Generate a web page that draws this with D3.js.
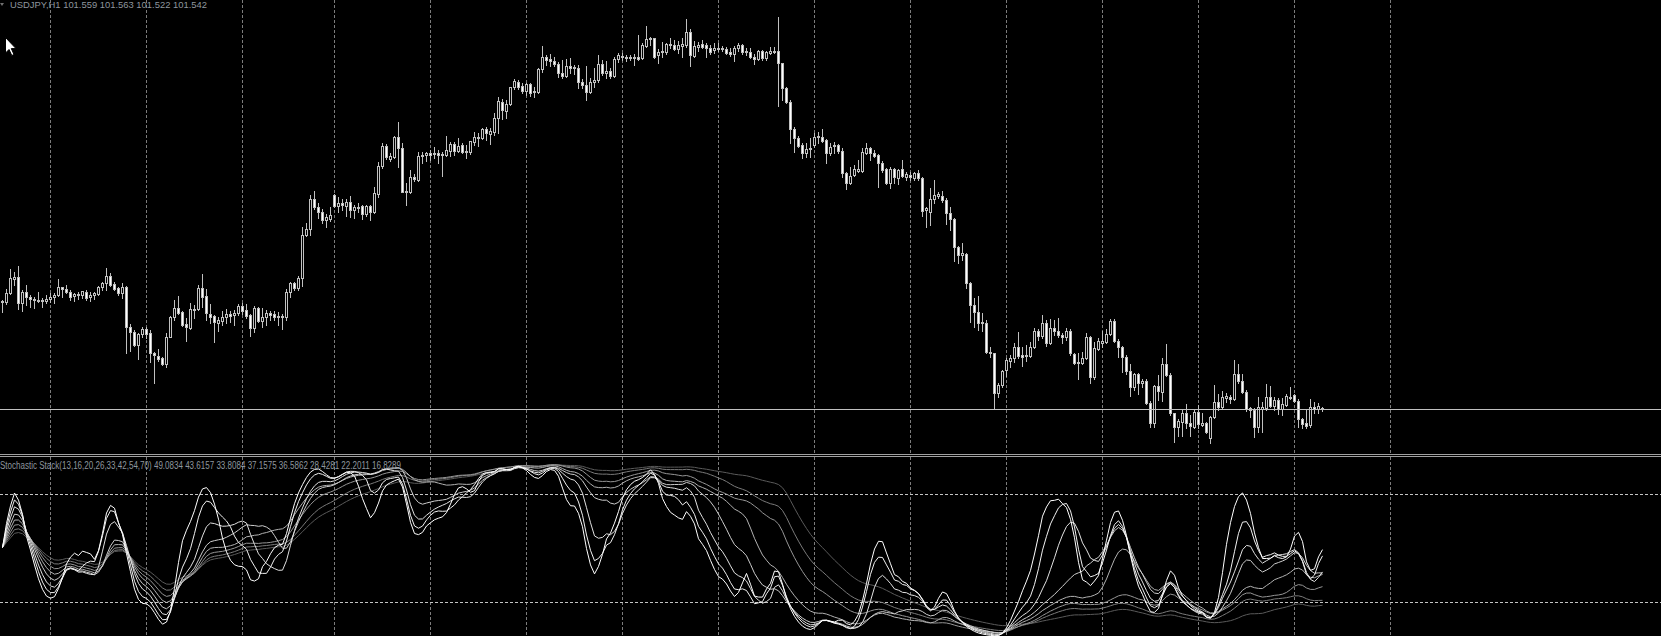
<!DOCTYPE html>
<html><head><meta charset="utf-8">
<script src="https://cdn.jsdelivr.net/npm/d3@7"></script>
<style>html,body{margin:0;padding:0;background:#000;overflow:hidden}</style>
</head><body><div id="chart"></div>
<script>
const symbol = "USDJPY,H1";
const periods = [13, 16, 20, 26, 33, 42, 54, 70];
const stochLabels = ["49.0834", "43.6157", "33.8084", "37.1575", "36.5862", "28.4281", "22.2011", "16.8289"];
const levels = [20, 80];
const dayStartBars = [12, 36, 60, 83, 107, 131, 155, 179, 203, 227, 251, 275, 299, 323, 347];

const open = [
102.628,102.612,102.702,102.842,102.862,102.602,102.712,102.668,102.642,102.635,
102.622,102.622,102.642,102.668,102.682,102.762,102.748,102.718,102.675,102.695,
102.682,102.718,102.662,102.682,102.692,102.762,102.802,102.875,102.795,102.752,
102.702,102.768,102.362,102.312,102.185,102.292,102.345,102.302,102.102,102.078,
102.052,101.995,102.268,102.462,102.552,102.512,102.392,102.352,102.542,102.542,
102.752,102.675,102.495,102.472,102.408,102.428,102.468,102.495,102.482,102.502,
102.575,102.535,102.482,102.352,102.552,102.428,102.462,102.502,102.495,102.468,
102.475,102.468,102.712,102.802,102.758,
102.852,103.285,103.342,103.642,103.568,103.518,103.435,103.442,103.682,103.578,
103.602,103.575,103.615,103.535,103.562,103.575,103.495,103.575,103.518,103.695,
103.975,104.175,104.042,104.068,104.262,104.152,103.718,103.718,103.868,103.835,
104.075,104.085,104.102,104.092,104.108,104.082,104.082,104.128,104.195,104.128,
104.182,104.118,104.118,104.218,104.262,104.258,104.342,104.295,104.318,104.452,104.618,104.528,
104.595,104.762,104.818,104.775,104.728,104.792,104.718,104.718,104.942,105.068,
105.042,105.028,104.995,104.908,104.875,104.975,104.952,104.952,104.818,104.785,
104.718,104.818,104.835,104.995,104.908,104.928,104.875,105.042,105.075,105.062,
105.052,105.062,105.062,105.052,105.178,105.242,105.252,105.085,105.112,105.118,
105.195,105.188,105.148,105.178,105.185,105.318,105.075,105.168,105.195,105.185,
105.152,105.135,105.152,105.142,105.142,105.118,105.095,105.152,105.185,105.128,
105.118,105.068,105.042,105.128,105.052,105.108,105.118,105.125,105.002,104.752,104.618,
104.342,104.252,104.185,104.102,104.142,104.185,104.262,104.268,104.235,104.102,
104.175,104.185,104.128,103.902,103.808,103.885,103.928,103.928,104.108,104.152,
104.108,104.085,104.008,103.942,103.808,103.942,103.852,103.942,103.868,103.885,
103.852,103.902,103.852,103.535,103.518,103.642,103.675,103.675,103.635,103.502,
103.442,103.162,103.085,103.095,102.808,102.585,102.518,102.402,102.408,102.118,
102.102,101.702,101.785,101.935,102.028,102.052,102.162,102.085,102.075,102.075,
102.162,102.328,102.275,102.408,102.208,102.352,102.328,102.285,102.262,102.328,
102.095,102.002,102.008,102.052,102.268,101.868,102.142,
102.208,102.218,102.295,102.428,102.228,102.162,102.068,101.928,101.762,101.895,
101.802,101.828,101.608,101.408,101.775,101.718,101.995,101.885,101.502,101.362,
101.418,101.502,101.402,101.368,101.518,101.388,101.402,101.252,101.462,101.618,
101.568,101.658,101.668,101.642,101.895,101.828,101.718,101.552,101.535,101.368,
101.548,101.552,101.668,101.575,101.635,101.548,101.588,101.668,101.685,101.628,
101.442,101.402,101.382,101.568,101.548,101.559];

const high = [
102.635,102.742,102.942,102.912,102.975,102.735,102.782,102.685,102.668,102.712,
102.658,102.682,102.708,102.702,102.842,102.768,102.782,102.735,102.708,102.718,
102.728,102.735,102.718,102.718,102.775,102.818,102.952,102.908,102.818,102.768,
102.808,102.775,102.395,102.335,102.308,102.362,102.362,102.335,102.118,102.142,
102.068,102.308,102.475,102.635,102.675,102.528,102.452,102.602,102.585,102.785,
102.895,102.742,102.595,102.485,102.468,102.528,102.542,102.528,102.535,102.595,
102.602,102.595,102.495,102.575,102.568,102.552,102.535,102.528,102.528,102.518,
102.495,102.742,102.818,102.818,102.875,
103.368,103.402,103.685,103.728,103.602,103.542,103.495,103.562,103.692,103.662,
103.642,103.642,103.675,103.585,103.602,103.585,103.585,103.585,103.762,104.018,
104.202,104.195,104.108,104.275,104.415,104.202,103.802,103.935,103.895,104.118,
104.118,104.118,104.135,104.168,104.135,104.118,104.275,104.218,104.218,104.252,
104.202,104.185,104.228,104.312,104.308,104.352,104.368,104.352,104.502,104.665,104.645,104.640,
104.768,104.842,104.835,104.802,104.808,104.802,104.762,104.952,105.175,105.085,
105.095,105.062,105.018,105.035,105.042,105.052,104.985,104.985,104.842,104.975,
104.852,104.952,105.085,105.035,105.028,104.952,105.062,105.102,105.102,105.085,
105.085,105.095,105.285,105.202,105.375,105.262,105.258,105.142,105.218,105.208,
105.252,105.235,105.228,105.252,105.442,105.342,105.228,105.218,105.235,105.208,
105.185,105.208,105.208,105.175,105.168,105.152,105.175,105.202,105.192,105.152,
105.152,105.095,105.135,105.135,105.128,105.162,105.168,105.462,105.008,104.762,104.635,
104.368,104.275,104.202,104.202,104.252,104.308,104.318,104.342,104.242,104.202,
104.218,104.195,104.152,103.918,103.968,103.985,104.035,104.152,104.208,104.168,
104.135,104.095,104.028,103.952,103.962,103.952,103.942,104.035,103.918,103.918,
103.918,103.935,103.862,103.568,103.752,103.835,103.718,103.728,103.652,103.568,
103.452,103.175,103.202,103.108,102.818,102.652,102.675,102.508,102.435,102.168,
102.108,101.808,101.935,102.052,102.085,102.202,102.318,102.168,102.185,102.218,
102.352,102.342,102.485,102.435,102.442,102.435,102.452,102.308,102.352,102.342,
102.108,102.102,102.118,102.302,102.275,102.218,102.252,
102.328,102.342,102.442,102.448,102.242,102.175,102.085,101.995,101.908,101.908,
101.842,101.842,101.628,101.785,101.885,102.052,102.195,101.902,101.508,101.442,
101.535,101.595,101.485,101.535,101.585,101.502,101.418,101.475,101.785,101.695,
101.728,101.708,101.685,102.035,101.995,101.895,101.735,101.568,101.552,101.662,
101.618,101.795,101.775,101.662,101.652,101.652,101.695,101.762,101.695,101.645,
101.452,101.542,101.642,101.618,101.602,101.563];

const low = [
102.518,102.592,102.695,102.785,102.542,102.528,102.585,102.568,102.558,102.612,
102.568,102.602,102.615,102.602,102.675,102.662,102.702,102.635,102.628,102.642,
102.652,102.635,102.628,102.648,102.682,102.735,102.735,102.775,102.735,102.685,
102.652,102.108,102.128,102.175,102.042,102.262,102.252,102.018,101.802,102.028,
101.985,101.968,102.262,102.435,102.495,102.375,102.228,102.342,102.452,102.535,
102.568,102.435,102.402,102.218,102.328,102.385,102.402,102.415,102.385,102.485,
102.495,102.452,102.275,102.318,102.418,102.368,102.385,102.435,102.435,102.385,
102.348,102.435,102.662,102.735,102.735,
102.775,103.275,103.285,103.542,103.452,103.402,103.368,103.428,103.568,103.518,
103.535,103.475,103.462,103.452,103.518,103.442,103.475,103.435,103.508,103.668,
103.952,104.042,104.028,104.052,103.968,103.712,103.585,103.708,103.828,103.828,
104.008,104.025,104.035,104.052,104.008,103.875,104.075,104.075,104.085,104.118,
104.102,104.058,104.095,104.185,104.175,104.242,104.235,104.195,104.285,104.302,104.442,104.452,
104.585,104.742,104.742,104.702,104.685,104.675,104.668,104.708,104.918,104.985,
104.975,104.975,104.862,104.852,104.862,104.908,104.895,104.752,104.752,104.635,
104.702,104.762,104.818,104.885,104.852,104.852,104.868,105.018,105.035,105.028,
105.035,104.985,105.035,105.042,105.168,105.185,105.052,105.008,105.068,105.095,
105.152,105.135,105.102,105.062,105.168,104.975,105.068,105.128,105.152,105.068,
105.095,105.102,105.128,105.128,105.095,105.075,105.028,105.128,105.095,105.085,
105.052,104.995,105.035,105.035,105.035,105.095,105.102,104.575,104.635,104.602,104.202,
104.118,104.162,104.052,104.068,104.068,104.162,104.208,104.218,104.008,104.085,
104.102,104.108,103.868,103.742,103.795,103.875,103.918,103.918,104.095,104.035,
104.062,103.762,103.918,103.795,103.752,103.802,103.795,103.862,103.835,103.835,
103.835,103.835,103.475,103.362,103.385,103.602,103.652,103.618,103.395,103.335,
103.028,103.008,103.035,102.752,102.418,102.362,102.335,102.328,102.102,102.068,
101.542,101.668,101.762,101.875,101.962,102.018,102.052,101.975,102.028,102.062,
102.152,102.235,102.252,102.175,102.195,102.285,102.268,102.208,102.235,102.085,
101.995,101.842,101.995,102.042,101.808,101.842,102.135,
102.168,102.202,102.285,102.218,102.068,101.918,101.895,101.675,101.735,101.695,
101.762,101.595,101.362,101.368,101.635,101.628,101.875,101.485,101.218,101.275,
101.275,101.352,101.275,101.352,101.352,101.375,101.308,101.208,101.452,101.535,
101.552,101.618,101.602,101.635,101.802,101.702,101.528,101.468,101.268,101.318,
101.318,101.535,101.562,101.535,101.495,101.485,101.575,101.642,101.618,101.368,
101.352,101.352,101.368,101.508,101.502,101.522];

const close = [
102.612,102.702,102.852,102.862,102.602,102.712,102.668,102.642,102.632,102.622,
102.635,102.648,102.668,102.685,102.762,102.748,102.718,102.668,102.692,102.682,
102.722,102.652,102.685,102.702,102.768,102.808,102.875,102.785,102.748,102.702,
102.768,102.362,102.312,102.185,102.292,102.345,102.292,102.102,102.082,102.045,
101.995,102.268,102.462,102.552,102.502,102.385,102.362,102.542,102.535,102.752,
102.668,102.502,102.468,102.418,102.435,102.468,102.495,102.475,102.508,102.575,
102.528,102.475,102.352,102.552,102.428,102.462,102.502,102.482,102.468,102.475,
102.468,102.712,102.802,102.758,102.852,
103.285,103.342,103.642,103.562,103.518,103.435,103.462,103.485,103.578,103.602,
103.585,103.615,103.535,103.562,103.555,103.495,103.575,103.518,103.702,103.975,
104.175,104.062,104.075,104.262,104.152,103.718,103.728,103.862,103.845,104.075,
104.085,104.102,104.085,104.108,104.082,104.092,104.135,104.195,104.128,104.175,
104.115,104.125,104.222,104.262,104.268,104.342,104.302,104.325,104.452,104.625,104.535,104.595,
104.762,104.828,104.768,104.728,104.795,104.708,104.728,104.942,105.062,105.035,
105.028,104.995,104.902,104.875,104.975,104.952,104.968,104.818,104.785,104.718,
104.818,104.835,104.995,104.908,104.928,104.875,105.042,105.085,105.062,105.052,
105.062,105.052,105.042,105.185,105.242,105.252,105.068,105.118,105.128,105.195,
105.185,105.148,105.185,105.192,105.318,105.085,105.175,105.185,105.168,105.152,
105.118,105.152,105.145,105.158,105.108,105.095,105.152,105.185,105.118,105.112,
105.062,105.042,105.128,105.052,105.115,105.125,105.125,105.002,104.752,104.618,104.342,
104.252,104.175,104.102,104.142,104.152,104.268,104.275,104.228,104.102,104.168,
104.185,104.128,103.908,103.808,103.875,103.942,103.942,104.118,104.152,104.108,
104.075,104.008,103.935,103.808,103.942,103.862,103.935,103.875,103.895,103.862,
103.902,103.852,103.528,103.552,103.642,103.685,103.695,103.635,103.502,103.442,
103.162,103.085,103.102,102.808,102.585,102.518,102.402,102.418,102.118,102.102,
101.708,101.785,101.928,102.035,102.052,102.162,102.075,102.068,102.085,102.168,
102.328,102.275,102.408,102.202,102.352,102.328,102.285,102.262,102.328,102.102,
102.002,102.018,102.052,102.268,101.868,102.152,102.228,
102.228,102.295,102.428,102.228,102.162,102.068,101.928,101.768,101.895,101.802,
101.828,101.608,101.408,101.775,101.728,101.995,101.885,101.502,101.362,101.428,
101.502,101.402,101.378,101.518,101.395,101.402,101.318,101.462,101.618,101.568,
101.668,101.675,101.642,101.895,101.828,101.718,101.542,101.535,101.368,101.562,
101.568,101.668,101.575,101.635,101.548,101.595,101.675,101.652,101.628,101.442,
101.395,101.375,101.568,101.548,101.575,101.542];

// ---- styles ----
const W = 1661, H = 636;
const wickColor = "#c0c0c0";
const gridColor = "#7c7c7c";
const levelColor = "#c4c4c4";
const textColor = "#8e969e";
const lineColors = ["#ffffff", "#f2f2f2", "#e2e2e2", "#cdcdcd", "#b2b2b2", "#969696", "#7a7a7a", "#5a5a5a"];

const svg = d3.select("#chart").append("svg").attr("width", W).attr("height", H)
  .style("display", "block").style("background", "#000");
svg.append("rect").attr("width", W).attr("height", H).attr("fill", "#000");

const defs = svg.append("defs");
defs.append("clipPath").attr("id", "clipMain").append("rect").attr("x", 0).attr("y", 0).attr("width", W).attr("height", 454);
defs.append("clipPath").attr("id", "clipSub").append("rect").attr("x", 0).attr("y", 457).attr("width", W).attr("height", H - 457);

const xS = d3.scaleLinear().domain([0, 1]).range([2.5, 6.5]);
const yP = d3.scaleLinear().domain([101.105, 105.635]).range([453, 0]);
const yK = d3.scaleLinear().domain([0, 100]).range([637.5, 457.5]);

// ---- grid ----
const gridG = svg.append("g");
dayStartBars.forEach(b => {
  const x = Math.floor(xS(b)) + 0.5;
  gridG.append("line").attr("x1", x).attr("x2", x).attr("y1", 0).attr("y2", 454)
    .attr("stroke", gridColor).attr("stroke-dasharray", "3,2").attr("shape-rendering", "crispEdges");
  gridG.append("line").attr("x1", x).attr("x2", x).attr("y1", 457).attr("y2", H)
    .attr("stroke", gridColor).attr("stroke-dasharray", "3,2").attr("shape-rendering", "crispEdges");
});

// ---- candles ----
const mainG = svg.append("g").attr("clip-path", "url(#clipMain)");
const bars = close.map((c, i) => ({ i, o: open[i], h: high[i], l: low[i], c }));
const cg = mainG.selectAll("g.c").data(bars).join("g").attr("class", "c");
cg.append("line")
  .attr("x1", d => xS(d.i)).attr("x2", d => xS(d.i))
  .attr("y1", d => Math.round(yP(d.h))).attr("y2", d => Math.round(yP(d.l)) + 1)
  .attr("stroke", wickColor).attr("shape-rendering", "crispEdges");
cg.append("rect")
  .attr("x", d => xS(d.i) - 1).attr("width", 2)
  .attr("y", d => Math.round(yP(Math.max(d.o, d.c))) + 0.5)
  .attr("height", d => Math.max(1, Math.round(yP(Math.min(d.o, d.c))) - Math.round(yP(Math.max(d.o, d.c)))))
  .attr("fill", d => d.c < d.o ? "#ffffff" : "#000000")
  .attr("stroke", wickColor).attr("shape-rendering", "crispEdges");

// current price line
const lastClose = close[close.length - 1];
const py = Math.round(yP(lastClose)) + 0.5;
svg.append("line").attr("x1", 0).attr("x2", W).attr("y1", py).attr("y2", py)
  .attr("stroke", "#c0c0c0").attr("shape-rendering", "crispEdges");

// separators
[454.5, 456.5].forEach(y => svg.append("line").attr("x1", 0).attr("x2", W).attr("y1", y).attr("y2", y)
  .attr("stroke", "#a0a0a0").attr("shape-rendering", "crispEdges"));

// ---- stochastic stack (close/close price field, slowing 3, EMA smoothing of n/2) ----
function stochastic(n) {
  const N = close.length, num = [], den = [];
  for (let t = 0; t < N; t++) {
    let hh = -Infinity, ll = Infinity;
    for (let j = Math.max(0, t - n + 1); j <= t; j++) { hh = Math.max(hh, close[j]); ll = Math.min(ll, close[j]); }
    num.push(close[t] - ll); den.push(hh - ll);
  }
  const k = [];
  for (let t = 0; t < N; t++) {
    let a = 0, b = 0;
    for (let j = Math.max(0, t - 2); j <= t; j++) { a += num[j]; b += den[j]; }
    k.push(b > 0 ? 100 * a / b : 50);
  }
  const alpha = 2 / (n / 2 + 1);
  const out = [];
  let e = k[0];
  for (let t = 0; t < N; t++) { e = t === 0 ? k[0] : e + alpha * (k[t] - e); out.push(e); }
  return out;
}

const subG = svg.append("g").attr("clip-path", "url(#clipSub)");
levels.forEach(v => {
  const y = Math.round(yK(v)) + 0.5;
  subG.append("line").attr("x1", 0).attr("x2", W).attr("y1", y).attr("y2", y)
    .attr("stroke", levelColor).attr("stroke-dasharray", "3,2").attr("shape-rendering", "crispEdges");
});
const line = d3.line().x((d, i) => xS(i)).y(d => yK(d));
const series = periods.map(p => stochastic(p));
for (let s = periods.length - 1; s >= 0; s--) {
  subG.append("path").attr("d", line(series[s])).attr("fill", "none")
    .attr("stroke", lineColors[s]).attr("stroke-width", 1);
}

// ---- texts ----
const fmt = d3.format(".3f");
const n = close.length - 1;
svg.append("path").attr("d", "M0,3 L4,3 L2,6 Z").attr("fill", "#707070");
svg.append("text").attr("x", 10).attr("y", 8)
  .attr("font-family", "Liberation Sans, Arial, sans-serif").attr("font-size", 9.5)
  .attr("fill", textColor)
  .attr("textLength", 197).attr("lengthAdjust", "spacingAndGlyphs")
  .text(`${symbol}  ${fmt(open[n])} ${fmt(high[n])} ${fmt(low[n])} ${fmt(close[n])}`);

svg.append("text").attr("x", 0).attr("y", 469)
  .attr("font-family", "Liberation Sans, Arial, sans-serif").attr("font-size", 10)
  .attr("fill", textColor)
  .attr("textLength", 401).attr("lengthAdjust", "spacingAndGlyphs")
  .text(`Stochastic Stack(${periods.join(",")}) ${stochLabels.join(" ")}`);

// mouse cursor
svg.append("path").attr("d", "M5.5,37.5 L5.5,53 L9,49.5 L11.8,55.5 L14,54.5 L11.3,48.6 L16,48.6 Z")
  .attr("fill", "#fff").attr("stroke", "#000").attr("stroke-width", 1);
</script>
</body></html>
